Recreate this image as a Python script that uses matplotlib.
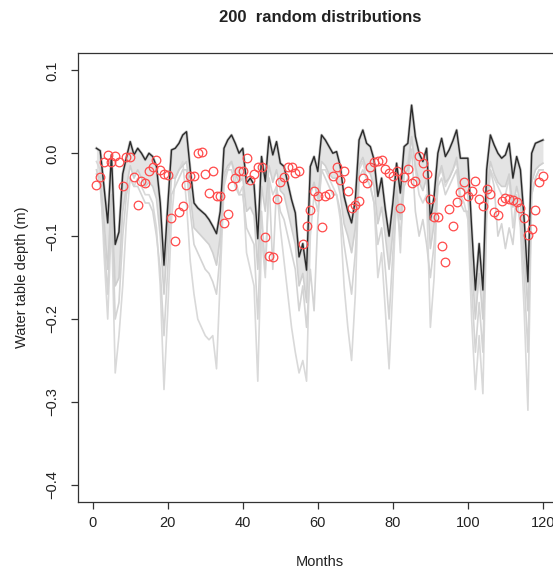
"""
Water table depth: observed points vs. 200 random parameter runs.
R-style base plot, cropped on the right like the source figure.
"""

import matplotlib
matplotlib.use("Agg")
import matplotlib.pyplot as plt
import numpy as np

plt.rcParams["font.family"] = ["Liberation Sans", "DejaVu Sans"]

# ---------------------------------------------------------------------------
# Data (months 1..120)
# ---------------------------------------------------------------------------
months = np.arange(1, 121)

# best run (dark line)
best = [
    0.006, 0.003, -0.040, -0.084, -0.002, -0.110, -0.095, -0.025, -0.005, 0.014,
    -0.002, 0.006, 0.000, -0.008, 0.000, -0.004, -0.016, -0.060, -0.135, -0.064,
    0.004, 0.006, 0.012, 0.022, 0.026, -0.020, -0.060, -0.066, -0.070, -0.074,
    -0.080, -0.088, -0.097, -0.070, 0.006, 0.016, 0.022, 0.012, 0.000, 0.006,
    -0.036, -0.030, -0.038, -0.103, -0.004, -0.034, 0.020, -0.002, 0.014, -0.012,
    -0.016, -0.036, -0.056, -0.072, -0.125, -0.109, -0.141, -0.016, -0.004, -0.022,
    0.022, 0.016, 0.008, 0.000, 0.002, -0.016, -0.052, -0.070, -0.084, -0.056,
    0.016, 0.028, 0.012, 0.008, -0.008, -0.052, -0.030, -0.068, -0.100, -0.060,
    -0.012, -0.048, 0.008, 0.012, 0.058, 0.020, 0.000, -0.010, 0.006, -0.080,
    -0.052, 0.000, 0.018, -0.004, 0.004, 0.015, 0.028, -0.006, -0.006, -0.006,
    -0.090, -0.165, -0.109, -0.165, -0.020, 0.022, 0.010, 0.000, -0.006, -0.002,
    0.012, -0.030, -0.004, -0.020, -0.080, -0.155, 0.000, 0.012, 0.014, 0.016,
]

# lower edge of the dense bundle of random runs
bundle_low = [
    -0.025, -0.030, -0.080, -0.140, -0.050, -0.160, -0.150, -0.070, -0.040, -0.015,
    -0.030, -0.020, -0.030, -0.040, -0.035, -0.040, -0.055, -0.100, -0.170, -0.100,
    -0.030, -0.030, -0.020, -0.015, -0.010, -0.050, -0.090, -0.095, -0.100, -0.105,
    -0.110, -0.120, -0.135, -0.100, -0.025, -0.015, -0.010, -0.025, -0.035, -0.030,
    -0.070, -0.065, -0.075, -0.140, -0.040, -0.070, -0.015, -0.035, -0.020, -0.045,
    -0.050, -0.070, -0.090, -0.110, -0.160, -0.145, -0.180, -0.050, -0.035, -0.055,
    -0.010, -0.015, -0.025, -0.030, -0.030, -0.050, -0.085, -0.100, -0.120, -0.090,
    -0.015, -0.005, -0.020, -0.025, -0.040, -0.085, -0.065, -0.100, -0.140, -0.095,
    -0.045, -0.080, -0.025, -0.020, 0.020, -0.015, -0.035, -0.045, -0.030, -0.115,
    -0.085, -0.030, -0.015, -0.035, -0.030, -0.020, -0.005, -0.040, -0.045, -0.050,
    -0.130, -0.200, -0.145, -0.200, -0.050, -0.010, -0.025, -0.035, -0.040, -0.040,
    -0.025, -0.065, -0.040, -0.060, -0.120, -0.190, -0.035, -0.020, -0.015, -0.012,
]

# two outlying random runs
run_mid = [
    -0.020, -0.040, -0.100, -0.170, -0.060, -0.200, -0.180, -0.100, -0.050, -0.030,
    -0.040, -0.040, -0.050, -0.060, -0.060, -0.070, -0.100, -0.140, -0.220, -0.140,
    -0.050, -0.040, -0.030, -0.020, -0.020, -0.070, -0.110, -0.120, -0.130, -0.140,
    -0.145, -0.155, -0.170, -0.120, -0.030, -0.020, -0.020, -0.040, -0.050, -0.050,
    -0.090, -0.100, -0.110, -0.200, -0.070, -0.140, -0.030, -0.140, -0.040, -0.070,
    -0.080, -0.100, -0.120, -0.140, -0.190, -0.160, -0.210, -0.140, -0.190, -0.080,
    -0.020, -0.030, -0.040, -0.050, -0.050, -0.070, -0.110, -0.140, -0.170, -0.120,
    -0.030, -0.020, -0.030, -0.040, -0.060, -0.110, -0.090, -0.140, -0.200, -0.120,
    -0.060, -0.100, -0.040, -0.030, 0.005, -0.070, -0.100, -0.080, -0.110, -0.150,
    -0.110, -0.040, -0.030, -0.050, -0.040, -0.030, -0.020, -0.060, -0.070, -0.070,
    -0.160, -0.240, -0.180, -0.240, -0.060, -0.020, -0.040, -0.100, -0.085, -0.115,
    -0.090, -0.110, -0.060, -0.080, -0.150, -0.240, -0.050, -0.030, -0.020, -0.020,
]

run_deep = [
    -0.010, -0.020, -0.120, -0.200, -0.080, -0.265, -0.220, -0.160, -0.080, -0.030,
    -0.040, -0.030, -0.040, -0.050, -0.050, -0.060, -0.090, -0.160, -0.285, -0.190,
    -0.080, -0.030, -0.020, -0.010, -0.060, -0.130, -0.170, -0.200, -0.210, -0.220,
    -0.225, -0.220, -0.260, -0.150, -0.040, -0.020, -0.010, -0.030, -0.050, -0.040,
    -0.120, -0.140, -0.160, -0.275, -0.100, -0.150, -0.030, -0.050, -0.040, -0.090,
    -0.130, -0.170, -0.210, -0.240, -0.265, -0.250, -0.275, -0.100, -0.050, -0.070,
    -0.020, -0.020, -0.030, -0.040, -0.050, -0.080, -0.160, -0.210, -0.250, -0.170,
    -0.020, -0.010, -0.030, -0.040, -0.060, -0.150, -0.120, -0.190, -0.260, -0.160,
    -0.040, -0.120, -0.020, -0.010, 0.020, -0.020, -0.050, -0.060, -0.050, -0.210,
    -0.150, -0.030, -0.020, -0.040, -0.030, -0.020, -0.010, -0.050, -0.060, -0.080,
    -0.200, -0.285, -0.220, -0.290, -0.080, -0.020, -0.030, -0.040, -0.050, -0.050,
    -0.030, -0.090, -0.050, -0.090, -0.190, -0.310, -0.050, -0.030, -0.020, -0.020,
]

# observations (red circles)
observed = [
    -0.038, -0.029, -0.011, -0.002, -0.011, -0.003, -0.011, -0.040, -0.005, -0.005,
    -0.029, -0.062, -0.033, -0.036, -0.022, -0.016, -0.008, -0.020, -0.025, -0.026,
    -0.078, -0.106, -0.071, -0.064, -0.038, -0.027, -0.027, 0.000, 0.001, -0.025,
    -0.048, -0.022, -0.052, -0.052, -0.084, -0.073, -0.039, -0.030, -0.021, -0.021,
    -0.006, -0.032, -0.025, -0.016, -0.016, -0.101, -0.124, -0.125, -0.055, -0.035,
    -0.029, -0.017, -0.016, -0.024, -0.022, -0.109, -0.088, -0.069, -0.046, -0.051,
    -0.089, -0.052, -0.049, -0.027, -0.017, -0.032, -0.021, -0.045, -0.066, -0.062,
    -0.058, -0.030, -0.036, -0.017, -0.011, -0.009, -0.008, -0.019, -0.024, -0.027,
    -0.022, -0.066, -0.029, -0.019, -0.036, -0.033, -0.003, -0.012, -0.025, -0.055,
    -0.077, -0.077, -0.112, -0.131, -0.067, -0.088, -0.059, -0.047, -0.035, -0.052,
    -0.045, -0.033, -0.055, -0.064, -0.043, -0.049, -0.071, -0.074, -0.058, -0.054,
    -0.055, -0.056, -0.059, -0.066, -0.078, -0.099, -0.091, -0.068, -0.035, -0.028,
]

x_ticks = [0, 20, 40, 60, 80, 100, 120]
y_ticks = [-0.4, -0.3, -0.2, -0.1, 0.0, 0.1]
y_tick_labels = ["\u22120.4", "\u22120.3", "\u22120.2", "\u22120.1", "0.0", "0.1"]

TITLE = "200  random distributions"
XLABEL = "Months"
YLABEL = "Water table depth (m)"

# ---------------------------------------------------------------------------
# Figure
# ---------------------------------------------------------------------------
W, H, DPI = 553, 571, 100
fig = plt.figure(figsize=(W / DPI, H / DPI), dpi=DPI)
fig.patch.set_facecolor("white")

# right edge of the box sits just outside the picture (cropped source)
ax = fig.add_axes([0.1405, 0.1214, 0.8752, 0.7863])

ax.fill_between(months, bundle_low, best, color="#e4e4e4", lw=0, zorder=1)
for run, col in [(run_deep, "#d9d9d9"), (run_mid, "#d4d4d4"), (bundle_low, "#cfcfcf")]:
    ax.plot(months, run, color=col, lw=1.2, zorder=2)
ax.plot(months, best, color="#c4c4c4", lw=2.0, zorder=3)
ax.plot(months, best, color="#2a2a2a", lw=1.0, zorder=4)

ax.plot(months, observed, linestyle="none", marker="o", ms=6.2,
        mfc="none", mec="#ff4a4a", mew=0.9, zorder=5)

ax.set_xlim(-4, 125)
ax.set_ylim(-0.4203, 0.1213)

ax.set_xticks(x_ticks)
ax.set_yticks(y_ticks)
ax.set_yticklabels(y_tick_labels, rotation=90, va="center")
ax.tick_params(axis="both", length=5, width=0.9, color="#333333",
               labelsize=10.5, labelcolor="#222222")
ax.tick_params(axis="x", pad=5)
ax.tick_params(axis="y", pad=8)

for s in ax.spines.values():
    s.set_color("#333333")
    s.set_linewidth(0.9)

ax.set_xlabel(XLABEL, fontsize=10.5, color="#222222", labelpad=18)
ax.set_ylabel(YLABEL, fontsize=10.5, color="#222222", labelpad=12)

fig.text(319.7 / W, 1 - 18 / H, TITLE, ha="center", va="center",
         fontsize=12, fontweight="bold", color="#222222")

fig.savefig("out.png", dpi=DPI, facecolor="white")
plt.close(fig)
